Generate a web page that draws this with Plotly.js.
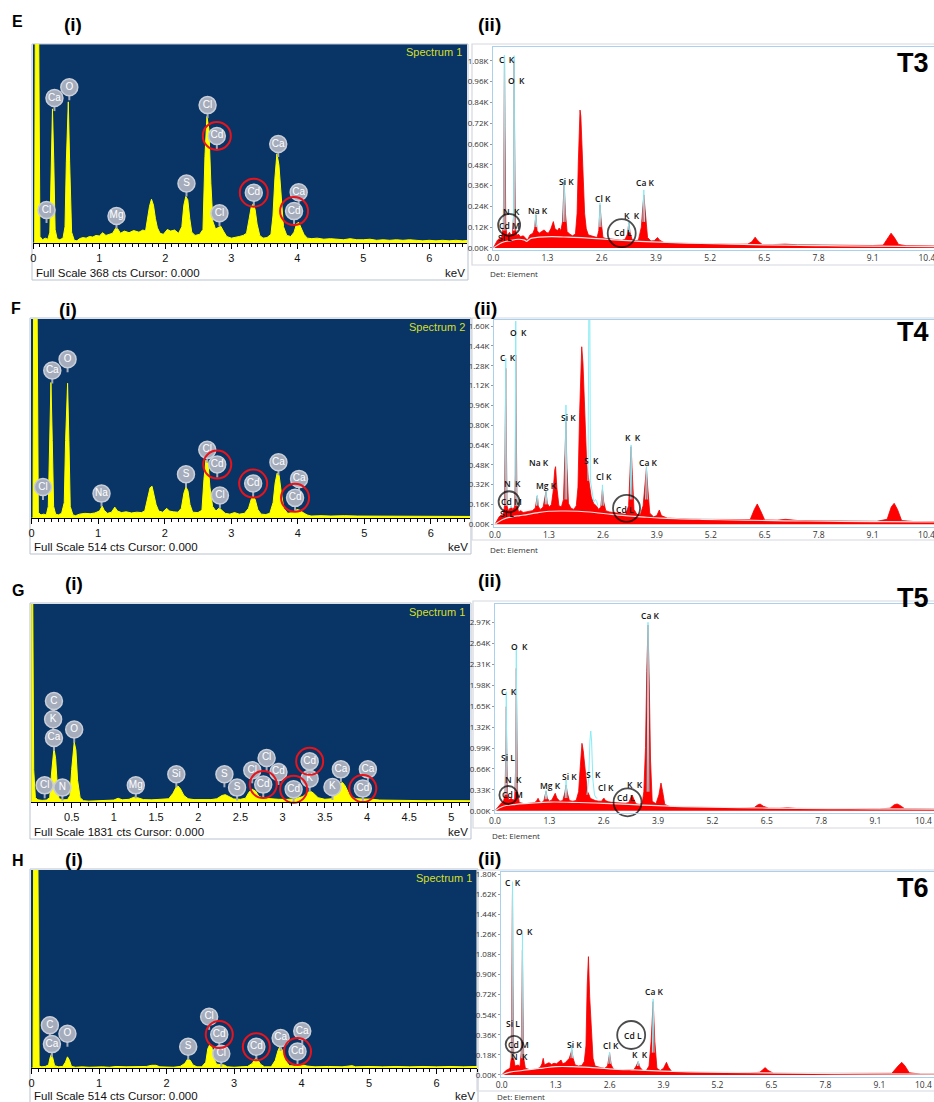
<!DOCTYPE html>
<html><head><meta charset="utf-8">
<script src="https://cdn.plot.ly/plotly-3.0.1.min.js"></script>
<style>html,body{margin:0;padding:0;background:#fff}#chart{width:934px;height:1102px}</style>
</head><body><div id="chart"></div>
<script>
// ---------------- DATA ----------------
// (i) panels: [keV, counts]
const E_i_fullscale = 368, F_i_fullscale = 514, G_i_fullscale = 1831, H_i_fullscale = 514;
const E_i_spec = [[0,0],[0.02,0],[0.03,420],[0.08,420],[0.10,12],[0.14,6],[0.18,9],[0.22,7],[0.25,20],[0.27,130],[0.29,248],[0.31,150],[0.33,25],[0.36,8],[0.40,6],[0.45,9],[0.48,30],[0.50,150],[0.53,261],[0.55,150],[0.58,20],[0.62,5],[0.66,4],[0.70,8],[0.75,10],[0.80,9],[0.85,12],[0.90,11],[0.95,14],[1.00,13],[1.05,19],[1.10,14],[1.15,16],[1.20,18],[1.25,28],[1.28,26],[1.32,18],[1.38,22],[1.45,19],[1.52,23],[1.60,20],[1.66,24],[1.70,22],[1.73,45],[1.76,68],[1.79,81],[1.82,70],[1.85,45],[1.88,28],[1.92,18],[1.97,16],[2.03,25],[2.08,22],[2.14,24],[2.20,18],[2.25,30],[2.28,70],[2.31,86],[2.34,80],[2.37,45],[2.40,20],[2.45,14],[2.52,16],[2.57,25],[2.60,160],[2.63,234],[2.66,210],[2.69,110],[2.72,40],[2.76,26],[2.80,28],[2.84,31],[2.88,22],[2.93,12],[3.00,9],[3.06,10],[3.12,12],[3.18,14],[3.23,18],[3.27,45],[3.30,66],[3.33,72],[3.36,62],[3.39,35],[3.43,14],[3.48,9],[3.54,10],[3.60,16],[3.63,50],[3.66,120],[3.69,165],[3.72,145],[3.75,90],[3.79,30],[3.84,14],[3.90,12],[3.95,20],[3.99,36],[4.02,38],[4.06,28],[4.10,16],[4.15,9],[4.22,8],[4.30,9],[4.40,7],[4.50,8],[4.60,7],[4.70,6],[4.80,8],[4.90,6],[5.00,6],[5.10,7],[5.20,5],[5.30,6],[5.40,5],[5.50,6],[5.60,5],[5.70,6],[5.80,5],[5.90,4],[6.00,5],[6.10,4],[6.20,5],[6.30,4],[6.40,5],[6.50,4],[6.60,5]];
const F_i_spec = [[0,0],[0.02,0],[0.03,600],[0.08,600],[0.10,14],[0.14,8],[0.18,10],[0.22,8],[0.25,30],[0.27,200],[0.29,350],[0.31,200],[0.33,30],[0.36,10],[0.40,8],[0.45,12],[0.49,40],[0.51,200],[0.54,348],[0.56,200],[0.58,30],[0.62,8],[0.66,6],[0.72,10],[0.80,12],[0.88,11],[0.95,13],[1.02,18],[1.06,31],[1.09,20],[1.14,12],[1.20,15],[1.25,28],[1.29,18],[1.35,14],[1.42,16],[1.50,13],[1.58,15],[1.65,14],[1.70,18],[1.74,50],[1.78,78],[1.81,82],[1.84,60],[1.87,35],[1.91,18],[1.97,15],[2.03,25],[2.07,18],[2.13,16],[2.20,15],[2.25,25],[2.29,65],[2.32,80],[2.35,70],[2.38,35],[2.42,15],[2.50,14],[2.56,20],[2.59,100],[2.62,150],[2.65,145],[2.68,80],[2.72,30],[2.77,18],[2.82,26],[2.86,20],[2.91,12],[2.98,10],[3.05,14],[3.12,10],[3.20,12],[3.26,25],[3.30,48],[3.33,56],[3.36,48],[3.40,22],[3.45,10],[3.52,9],[3.58,12],[3.63,40],[3.66,90],[3.69,116],[3.72,110],[3.75,70],[3.79,25],[3.85,12],[3.93,14],[3.99,22],[4.03,20],[4.08,14],[4.14,8],[4.20,5],[4.35,6],[4.50,5],[4.70,6],[4.90,5],[5.10,5],[5.30,4],[5.50,5],[5.70,4],[5.90,5],[6.10,4],[6.30,5],[6.50,4],[6.60,4]];
const G_i_spec = [[0.02,2400],[0.035,2400],[0.05,300],[0.07,40],[0.10,20],[0.15,15],[0.20,18],[0.24,40],[0.26,250],[0.28,450],[0.29,500],[0.31,400],[0.33,150],[0.35,30],[0.40,20],[0.45,22],[0.48,60],[0.50,300],[0.53,555],[0.55,480],[0.57,200],[0.60,40],[0.64,12],[0.70,8],[0.80,10],[0.90,12],[1.00,18],[1.05,35],[1.10,20],[1.18,25],[1.24,45],[1.28,40],[1.35,22],[1.45,20],[1.55,22],[1.65,30],[1.70,80],[1.74,140],[1.76,148],[1.79,120],[1.83,60],[1.88,30],[1.95,22],[2.05,20],[2.15,22],[2.22,30],[2.28,60],[2.32,68],[2.36,50],[2.42,28],[2.50,25],[2.56,35],[2.60,90],[2.64,117],[2.68,100],[2.72,50],[2.78,35],[2.85,30],[2.95,25],[3.05,24],[3.15,30],[3.24,50],[3.30,90],[3.33,99],[3.36,85],[3.42,40],[3.50,25],[3.58,30],[3.63,80],[3.68,170],[3.71,180],[3.74,150],[3.79,70],[3.86,30],[3.95,28],[4.01,32],[4.06,26],[4.15,18],[4.30,15],[4.50,14],[4.70,12],[4.90,13],[5.10,11],[5.22,12]];
const H_i_spec = [[0,0],[0.02,0],[0.03,600],[0.09,600],[0.11,5],[0.15,3],[0.20,4],[0.25,8],[0.27,25],[0.29,35],[0.31,28],[0.34,6],[0.40,3],[0.46,4],[0.50,15],[0.53,29],[0.56,20],[0.59,4],[0.65,2],[0.75,3],[0.85,2],[0.95,3],[1.05,3],[1.15,2],[1.25,4],[1.40,3],[1.55,3],[1.70,4],[1.78,7],[1.84,7],[1.90,3],[2.00,3],[2.10,2],[2.20,4],[2.27,12],[2.31,23],[2.35,20],[2.39,8],[2.45,3],[2.52,3],[2.58,15],[2.61,50],[2.64,61],[2.67,55],[2.70,25],[2.74,10],[2.80,9],[2.85,8],[2.90,3],[3.00,2],[3.10,3],[3.20,4],[3.27,12],[3.31,24],[3.35,22],[3.39,10],[3.45,3],[3.55,3],[3.61,20],[3.65,45],[3.68,56],[3.72,45],[3.76,20],[3.82,6],[3.90,5],[3.97,9],[4.02,8],[4.08,5],[4.20,3],[4.40,4],[4.60,3],[4.75,6],[4.80,3],[5.00,4],[5.20,3],[5.40,4],[5.60,3],[5.80,4],[6.00,3],[6.20,4],[6.40,3],[6.60,4]];

// (i) element labels: [text, keV, counts]
const E_i_labels = [['Cl',0.20,61],['Ca',0.32,268],['O',0.545,288],['Mg',1.26,50],['S',2.32,110],['Cl',2.64,255],['Cd',2.78,198],['Cl',2.82,55],['Cd',3.34,93],['Ca',3.71,183],['Ca',4.02,94],['Cd',3.95,59]];
const F_i_labels = [['Cl',0.17,80],['Ca',0.31,381],['O',0.54,410],['Na',1.05,63],['S',2.32,113],['Cl',2.64,176],['Cd',2.79,138],['Cl',2.83,58],['Cd',3.33,89],['Ca',3.71,144],['Ca',4.02,101],['Cd',3.96,52]];
const G_i_labels = [['C',0.29,934],['K',0.28,765],['Ca',0.29,592],['Cl',0.18,154],['N',0.39,133],['O',0.53,670],['Mg',1.26,154],['Si',1.74,256],['S',2.31,256],['S',2.46,133],['Cl',2.81,407],['Cd',2.95,278],['Cl',2.64,293],['Cd',2.77,161],['Cd',3.13,117],['Cd',3.32,376],['K',3.32,216],['K',3.59,139],['Ca',3.69,302],['Ca',4.01,302],['Cd',3.95,124]];
const H_i_labels = [['C',0.27,111],['Ca',0.30,62],['O',0.53,89],['S',2.32,55],['Cl',2.63,133],['Cd',2.78,87],['Cl',2.81,37],['Cd',3.33,55],['Ca',3.69,78],['Ca',4.01,96],['Cd',3.94,43]];
// (i) highlighted Cd labels: [keV, counts]
const E_i_cd = [[2.78,198],[3.34,93],[3.95,59]];
const F_i_cd = [[2.79,138],[3.33,89],[3.96,52]];
const G_i_cd = [[2.77,161],[3.13,117],[3.32,376],[3.95,124]];
const H_i_cd = [[2.78,87],[3.33,55],[3.94,43]];

// (ii) panels: measured spectrum, fitted peaks (cyan), background
const T3_spec = [[0,0],[0.05,20],[0.10,45],[0.15,55],[0.20,60],[0.24,120],[0.26,700],[0.27,1094],[0.28,700],[0.30,120],[0.33,70],[0.36,80],[0.39,90],[0.42,75],[0.46,80],[0.49,200],[0.50,1082],[0.51,700],[0.53,120],[0.56,70],[0.60,80],[0.65,65],[0.72,70],[0.78,55],[0.82,45],[0.88,75],[0.95,85],[0.99,110],[1.02,190],[1.05,100],[1.10,85],[1.16,95],[1.22,104],[1.27,90],[1.32,85],[1.38,110],[1.44,152],[1.48,110],[1.54,100],[1.58,115],[1.62,100],[1.66,150],[1.70,383],[1.73,200],[1.77,95],[1.83,80],[1.90,70],[1.97,80],[2.01,200],[2.04,500],[2.08,796],[2.10,760],[2.13,604],[2.16,380],[2.19,200],[2.23,110],[2.28,75],[2.35,70],[2.42,65],[2.49,60],[2.53,100],[2.56,248],[2.59,150],[2.63,60],[2.70,55],[2.80,52],[2.90,48],[3.00,45],[3.08,44],[3.16,50],[3.22,80],[3.25,146],[3.28,90],[3.33,48],[3.40,42],[3.48,45],[3.55,120],[3.61,306],[3.65,180],[3.70,60],[3.78,40],[3.86,42],[3.94,60],[3.99,45],[4.10,30],[4.30,28],[4.50,26],[4.70,27],[4.90,24],[5.10,25],[5.30,22],[5.50,23],[5.70,21],[5.90,20],[6.10,22],[6.20,35],[6.28,62],[6.35,40],[6.45,20],[6.70,19],[7.00,22],[7.30,18],[7.60,17],[7.90,18],[8.20,16],[8.50,15],[8.80,15],[9.10,14],[9.35,16],[9.45,50],[9.54,85],[9.62,60],[9.72,20],[9.90,13],[10.20,12],[10.57,11]];
const T3_fit = [[0.25,100],[0.265,1113],[0.28,100],null,[0.485,100],[0.50,1110],[0.515,100],null,[1.00,120],[1.02,195],[1.04,120],null,[1.68,150],[1.70,393],[1.72,150],null,[2.54,120],[2.56,260],[2.58,120],null,[3.23,90],[3.25,150],[3.27,90],null,[3.59,150],[3.61,335],[3.63,150]];
const T3_bkg = [[0,0],[0.2,30],[0.4,42],[0.6,50],[0.75,45],[0.8,38],[0.9,55],[1.1,62],[1.4,65],[1.8,62],[2.2,58],[2.6,52],[3.0,45],[3.5,38],[4.0,33],[5.0,26],[6.0,20],[7.0,16],[8.0,13],[9.0,10],[10.57,8]];
const T4_spec = [[0,0],[0.05,30],[0.10,60],[0.15,75],[0.20,70],[0.23,150],[0.25,800],[0.26,1259],[0.27,800],[0.29,150],[0.32,110],[0.36,130],[0.39,142],[0.43,120],[0.47,140],[0.49,400],[0.50,1366],[0.51,900],[0.53,150],[0.57,100],[0.62,110],[0.68,95],[0.75,100],[0.82,105],[0.90,110],[0.97,130],[1.00,200],[1.02,228],[1.05,140],[1.10,120],[1.16,140],[1.20,200],[1.23,264],[1.26,170],[1.31,140],[1.36,160],[1.40,260],[1.44,440],[1.46,465],[1.49,300],[1.54,150],[1.60,140],[1.65,200],[1.69,600],[1.71,828],[1.73,500],[1.77,170],[1.83,130],[1.90,120],[1.96,150],[2.00,300],[2.04,900],[2.07,1300],[2.09,1433],[2.12,1300],[2.15,1057],[2.18,700],[2.21,492],[2.25,380],[2.28,301],[2.32,220],[2.38,166],[2.44,150],[2.50,120],[2.55,140],[2.59,282],[2.62,180],[2.67,110],[2.75,100],[2.85,95],[2.95,90],[3.05,85],[3.15,80],[3.22,150],[3.26,450],[3.28,626],[3.31,400],[3.35,120],[3.42,80],[3.50,75],[3.57,150],[3.62,380],[3.65,452],[3.68,300],[3.73,90],[3.82,60],[3.90,70],[3.96,115],[4.01,70],[4.15,50],[4.40,45],[4.70,42],[5.00,40],[5.30,38],[5.60,37],[5.90,35],[6.15,38],[6.25,120],[6.32,164],[6.40,110],[6.50,35],[6.80,33],[7.00,40],[7.30,30],[7.60,30],[8.00,28],[8.40,27],[8.80,25],[9.20,24],[9.45,40],[9.55,140],[9.62,169],[9.70,120],[9.80,30],[10.10,22],[10.58,22]];
const T4_fit = [[0.245,150],[0.26,1340],[0.275,150],null,[0.485,150],[0.50,1640],[0.515,150],null,[0.37,130],[0.39,150],[0.41,130],null,[1.00,150],[1.02,235],[1.04,150],null,[1.21,160],[1.23,270],[1.25,160],null,[1.69,200],[1.71,963],[1.73,200],null,[2.24,350],[2.262,1700],[2.285,1700],[2.30,350],[2.38,180],[2.42,200],[2.45,185],[2.48,150],null,[2.57,150],[2.59,318],[2.61,150],null,[3.26,200],[3.28,640],[3.30,200],null,[3.63,200],[3.65,465],[3.67,200]];
const T4_bkg = [[0,0],[0.2,40],[0.4,60],[0.6,70],[0.8,80],[1.0,92],[1.3,105],[1.7,107],[2.0,105],[2.4,95],[2.8,80],[3.2,68],[3.6,58],[4.0,50],[5.0,40],[6.0,33],[7.0,28],[8.0,25],[9.0,22],[10.58,20]];
const T5_spec = [[0,0],[0.05,40],[0.10,80],[0.15,120],[0.20,140],[0.24,250],[0.26,1000],[0.27,1642],[0.28,1000],[0.30,250],[0.33,170],[0.36,180],[0.39,196],[0.43,170],[0.47,180],[0.49,600],[0.51,2248],[0.52,1500],[0.54,300],[0.58,130],[0.63,120],[0.70,110],[0.78,115],[0.86,120],[0.94,125],[0.99,150],[1.03,196],[1.07,140],[1.12,130],[1.17,160],[1.22,306],[1.25,200],[1.30,150],[1.36,170],[1.41,230],[1.44,275],[1.48,200],[1.55,150],[1.62,160],[1.67,280],[1.70,406],[1.73,280],[1.78,160],[1.86,150],[1.94,160],[2.00,300],[2.04,700],[2.08,1064],[2.11,950],[2.15,722],[2.18,450],[2.21,306],[2.25,250],[2.28,196],[2.33,180],[2.40,160],[2.48,150],[2.55,150],[2.59,190],[2.61,196],[2.64,160],[2.72,140],[2.82,130],[2.92,125],[3.02,120],[3.12,118],[3.20,130],[3.25,200],[3.28,248],[3.31,200],[3.37,110],[3.45,100],[3.52,110],[3.56,300],[3.60,1000],[3.63,2200],[3.66,2932],[3.69,2000],[3.72,800],[3.76,150],[3.85,110],[3.92,250],[3.97,437],[4.01,300],[4.06,100],[4.20,60],[4.50,55],[4.80,52],[5.10,50],[5.40,48],[5.70,45],[6.00,43],[6.20,50],[6.28,90],[6.34,106],[6.42,70],[6.55,40],[6.80,38],[7.00,48],[7.20,36],[7.60,34],[8.00,33],[8.40,31],[8.80,30],[9.20,29],[9.45,40],[9.55,95],[9.62,106],[9.70,80],[9.80,30],[10.10,28],[10.50,26]];
const T5_fit = [[0.255,250],[0.27,1879],[0.285,250],null,[0.495,300],[0.51,2564],[0.525,300],null,[1.20,180],[1.22,320],[1.24,180],null,[1.68,200],[1.70,485],[1.72,200],null,[2.20,250],[2.24,500],[2.27,1100],[2.29,1258],[2.31,1100],[2.34,500],[2.38,250],[2.42,200],[2.45,200],null,[3.64,300],[3.66,2975],[3.68,300]];
const T5_bkg = [[0,0],[0.2,70],[0.5,100],[0.8,115],[1.3,137],[2.0,130],[2.6,117],[3.2,100],[3.9,80],[4.5,65],[5.5,52],[6.5,42],[8.0,34],[9.0,30],[10.5,25]];
const T6_spec = [[0,0],[0.05,20],[0.10,40],[0.15,50],[0.20,60],[0.23,150],[0.25,900],[0.26,1672],[0.27,900],[0.29,150],[0.32,80],[0.36,85],[0.40,90],[0.44,75],[0.47,200],[0.49,800],[0.50,1119],[0.51,700],[0.53,150],[0.57,60],[0.63,50],[0.70,45],[0.78,50],[0.86,55],[0.93,70],[0.97,100],[1.00,149],[1.03,90],[1.08,100],[1.14,110],[1.20,95],[1.26,105],[1.32,100],[1.38,115],[1.43,134],[1.47,100],[1.53,110],[1.58,130],[1.63,150],[1.67,200],[1.69,224],[1.72,150],[1.77,90],[1.85,80],[1.93,85],[1.99,120],[2.03,260],[2.06,800],[2.09,1060],[2.12,700],[2.16,350],[2.20,150],[2.25,80],[2.32,70],[2.40,65],[2.48,60],[2.55,80],[2.60,194],[2.64,90],[2.70,50],[2.80,48],[2.90,45],[3.00,42],[3.10,40],[3.18,45],[3.24,80],[3.29,119],[3.33,70],[3.40,40],[3.48,38],[3.55,80],[3.60,300],[3.65,657],[3.69,300],[3.74,60],[3.82,40],[3.90,60],[3.97,113],[4.02,70],[4.10,30],[4.40,25],[4.80,22],[5.20,20],[5.60,18],[6.00,17],[6.22,25],[6.30,55],[6.35,66],[6.42,40],[6.55,16],[7.00,14],[7.50,13],[8.00,12],[8.50,10],[9.00,10],[9.40,15],[9.55,80],[9.64,113],[9.72,80],[9.82,20],[10.10,8],[10.45,8]];
const T6_fit = [[0.245,150],[0.26,1731],[0.275,150],null,[0.485,150],[0.50,1269],[0.515,150],null,[1.67,150],[1.69,269],[1.71,150],null,[2.58,100],[2.60,205],[2.62,100],null,[3.27,80],[3.29,125],[3.31,80],null,[3.63,200],[3.65,681],[3.67,200]];
const T6_bkg = [[0,0],[0.2,25],[0.5,40],[0.8,55],[1.0,62],[1.3,75],[1.7,75],[2.0,70],[2.6,55],[3.2,45],[3.9,35],[5.0,25],[6.0,20],[7.5,14],[9.0,10],[10.45,8]];

// (ii) peak labels: [text, keV, counts]
const NB = '\u00a0\u00a0';
const T3_labels = [['C'+NB+'K',0.32,1085],['O'+NB+'K',0.56,969],['N'+NB+'K',0.44,213],['Cd M',0.38,129],['Si L',0.28,59],['Na K',1.08,215],['Si K',1.76,383],['Cl K',2.62,287],['K'+NB+'K',3.32,190],['Cd L',3.12,88],['Ca K',3.66,377]];
const T4_labels = [['O'+NB+'K',0.56,1546],['C'+NB+'K',0.31,1348],['Si K',1.77,860],['K'+NB+'K',3.33,702],['Na K',1.07,500],['S'+NB+'K',2.33,511],['Ca K',3.71,500],['Cl K',2.63,384],['Mg K',1.25,309],['N'+NB+'K',0.43,331],['Cd M',0.40,182],['Si L',0.28,83],['Cd L',3.13,123]];
const T5_labels = [['Ca K',3.72,3090],['O'+NB+'K',0.58,2590],['C'+NB+'K',0.34,1879],['Si L',0.30,837],['N'+NB+'K',0.44,500],['Cd M',0.42,259],['Mg K',1.32,406],['Si K',1.79,537],['S'+NB+'K',2.35,575],['Cl K',2.66,363],['K'+NB+'K',3.35,421],['Cd L',3.13,212]];
const T6_labels = [['C'+NB+'K',0.28,1722],['O'+NB+'K',0.54,1283],['Si L',0.27,463],['Cd M',0.40,269],['N'+NB+'K',0.42,170],['Si K',1.75,275],['Cl K',2.63,260],['Cd L',3.16,358],['K'+NB+'K',3.33,185],['Ca K',3.69,752]];
// (ii) circled Cd lines: [keV, counts]
const T3_cd = [[0.38,133],[3.08,85]];
const T4_cd = [[0.34,182],[3.17,129]];
const T5_cd = [[0.32,248],[3.17,133]];
const T6_cd = [[0.30,275],[3.12,358]];

// tick labels
const keV_ticks = [0,1.3,2.6,3.9,5.2,6.5,7.8,9.1,10.4];
const keV_ticktext = ['0.0','1.3','2.6','3.9','5.2','6.5','7.8','9.1','10.4'];
const T3_yticks = [0,120,240,360,480,600,720,840,960,1080];
const T4_yticks = [0,160,320,480,640,800,960,1120,1280,1440,1600];
const T5_yticks = [0,330,660,990,1320,1650,1980,2310,2640,2970];
const T6_yticks = [0,180,360,540,720,900,1080,1260,1440,1620,1800];

// ---------------- LAYOUT ----------------
const W = 934, H = 1102;
const fx = v => v / W, fy = v => 1 - v / H;
const sfx = n => n === 1 ? '' : String(n);
const X = p => p ? p[0] : null, Y = p => p ? p[1] : null;

const leftPanels = [
  {n:1, spec:E_i_spec, lab:E_i_labels, cd:E_i_cd, box:[33,467,44,243], xr:[-0.005,6.57], full:E_i_fullscale, dtick:1, name:'Spectrum 1', frame:[32,468,44,280], footY:273, cdSize:28},
  {n:3, spec:F_i_spec, lab:F_i_labels, cd:F_i_cd, box:[31,470,319,518], xr:[-0.01,6.59], full:F_i_fullscale, dtick:1, name:'Spectrum 2', frame:[30,471,318,554], footY:547, cdSize:28},
  {n:5, spec:G_i_spec, lab:G_i_labels, cd:G_i_cd, box:[31,470,604,802], xr:[0.018,5.22], full:G_i_fullscale, dtick:0.5, name:'Spectrum 1', frame:[30,471,603,839], footY:832, cdSize:27},
  {n:7, spec:H_i_spec, lab:H_i_labels, cd:H_i_cd, box:[31,477,870,1068], xr:[-0.01,6.6], full:H_i_fullscale, dtick:1, name:'Spectrum 1', frame:[30,478,869,1103], footY:1096, cdSize:27}
];
const rightPanels = [
  {n:2, spec:T3_spec, fit:T3_fit, bkg:T3_bkg, lab:T3_labels, cd:T3_cd, cdSize:[22,28], box:[493,934,47,250], xr:[-0.007,10.57], yr:[-12,1160], yt:T3_yticks, tag:'T3', tagY:63, frame:[472,936,44,265], detY:274, detX:488, edgeTick:false},
  {n:4, spec:T4_spec, fit:T4_fit, bkg:T4_bkg, lab:T4_labels, cd:T4_cd, cdSize:[21,27], box:[494,934,320,527], xr:[-0.024,10.58], yr:[-22,1649], yt:T4_yticks, tag:'T4', tagY:332, frame:[472,936,318,540], detY:549, detX:488, edgeTick:false},
  {n:6, spec:T5_spec, fit:T5_fit, bkg:T5_bkg, lab:T5_labels, cd:T5_cd, cdSize:[18,28], box:[495,934,604,813], xr:[0,10.5], yr:[-36,3264], yt:T5_yticks, tag:'T5', tagY:598, frame:[473,936,601,828], detY:835, detX:490, edgeTick:true},
  {n:8, spec:T6_spec, fit:T6_fit, bkg:T6_bkg, lab:T6_labels, cd:T6_cd, cdSize:[17,28], box:[501,934,872,1077], xr:[-0.017,10.417], yr:[-18,1818], yt:T6_yticks, tag:'T6', tagY:888, frame:[477,936,870,1091], detY:1096, detX:495, edgeTick:true}
];

const data = [], shapes = [], annotations = [];
const layout = {
  width: W, height: H, margin: {l:0, r:0, t:0, b:0},
  paper_bgcolor: '#ffffff', plot_bgcolor: 'rgba(0,0,0,0)',
  showlegend: false, hovermode: false,
  font: {family: 'Liberation Sans, Arial, sans-serif', color: '#000'}
};

leftPanels.forEach(p => {
  const s = sfx(p.n), xa = 'x' + s, ya = 'y' + s;
  const [x0, x1, y0, y1] = p.box;
  layout['xaxis' + s] = {
    domain: [fx(x0), fx(x1)], range: p.xr, anchor: ya, showgrid: false, zeroline: false,
    showline: true, linecolor: '#000', linewidth: 1, ticks: 'outside', ticklen: 5, tickcolor: '#000',
    tick0: 0, dtick: p.dtick, ticklabeloverflow: 'allow',
    tickfont: {family: 'Liberation Sans, Arial', size: 11, color: '#111'},
    minor: {ticks: 'outside', ticklen: 3, tickcolor: '#000', dtick: 0.1, tick0: 0, showgrid: false}
  };
  layout['yaxis' + s] = {domain: [fy(y1), fy(y0)], range: [0, p.full], anchor: xa, visible: false, fixedrange: true};
  shapes.push({type:'rect', xref: xa + ' domain', yref: ya + ' domain', x0:0, x1:1, y0:0, y1:1, fillcolor:'#083566', line:{width:0}, layer:'below'});
  shapes.push({type:'rect', xref:'paper', yref:'paper', x0:fx(p.frame[0]), x1:fx(p.frame[1]), y0:fy(p.frame[3]), y1:fy(p.frame[2]), line:{color:'#b9c3d2', width:1}, fillcolor:'rgba(0,0,0,0)', layer:'below'});
  data.push({type:'scatter', mode:'lines', x:p.spec.map(X), y:p.spec.map(Y), xaxis:xa, yaxis:ya,
    fill:'tozeroy', fillcolor:'#ffff00', line:{color:'#ffff00', width:1}, hoverinfo:'skip'});
  const cpp = p.full / (y1 - y0);
  const sx = [], sy = [];
  p.lab.forEach(l => { sx.push(l[1], l[1], null); sy.push(l[2], l[2] - 13 * cpp, null); });
  data.push({type:'scatter', mode:'lines', x:sx, y:sy, xaxis:xa, yaxis:ya, line:{color:'#a5adbd', width:2}, hoverinfo:'skip', cliponaxis:false});
  data.push({type:'scatter', mode:'markers+text', x:p.lab.map(l=>l[1]), y:p.lab.map(l=>l[2]), text:p.lab.map(l=>l[0]),
    xaxis:xa, yaxis:ya, cliponaxis:false, textposition:'middle center',
    textfont:{family:'Liberation Sans, Arial', size:10, color:'#ffffff'},
    marker:{symbol:'circle', size:17, color:'#a5adbd', line:{color:'#c9ced8', width:1.5}}, hoverinfo:'skip'});
  data.push({type:'scatter', mode:'markers', x:p.cd.map(X), y:p.cd.map(Y), xaxis:xa, yaxis:ya, cliponaxis:false,
    marker:{symbol:'circle-open', size:p.cdSize, color:'#e8131b', line:{color:'#e8131b', width:2}}, hoverinfo:'skip'});
  annotations.push({xref:'paper', yref:'paper', x:fx(x1 - 3), y:fy(y0 + 8), xanchor:'right', yanchor:'middle', showarrow:false,
    text:p.name, font:{family:'Liberation Sans, Arial', size:11, color:'#d7de2a'}});
  annotations.push({xref:'paper', yref:'paper', x:fx(x0 + 1), y:fy(p.footY), xanchor:'left', yanchor:'middle', showarrow:false,
    text:'Full Scale ' + p.full + ' cts Cursor: 0.000', font:{family:'Liberation Sans, Arial', size:11.5, color:'#111'}});
  annotations.push({xref:'paper', yref:'paper', x:fx(x1), y:fy(p.footY), xanchor:'right', yanchor:'middle', showarrow:false,
    text:'keV', font:{family:'Liberation Sans, Arial', size:11.5, color:'#111'}});
});

rightPanels.forEach(p => {
  const s = sfx(p.n), xa = 'x' + s, ya = 'y' + s;
  const [x0, x1, y0, y1] = p.box;
  const nT = p.edgeTick ? keV_ticks.length - 1 : keV_ticks.length;
  layout['xaxis' + s] = {
    domain: [fx(x0), fx(x1)], range: p.xr, anchor: ya, showgrid: false, zeroline: false,
    showline: true, mirror: true, linecolor: '#a9d0ec', linewidth: 1, ticks: '',
    tickvals: keV_ticks.slice(0, nT), ticktext: keV_ticktext.slice(0, nT), ticklabeloverflow: 'allow',
    tickfont: {family: 'Open Sans, Noto Sans, sans-serif', size: 8.5, color: '#333'}
  };
  if (p.edgeTick) {
    annotations.push({xref:'paper', yref:'paper', x:1, y:fy(y1 + 7), xanchor:'right', yanchor:'middle', showarrow:false,
      text:keV_ticktext[keV_ticktext.length - 1], font:{family:'Open Sans, Noto Sans, sans-serif', size:8.5, color:'#333'}});
  }
  layout['yaxis' + s] = {
    domain: [fy(y1), fy(y0)], range: p.yr, anchor: xa, showgrid: false, zeroline: false,
    showline: true, mirror: true, linecolor: '#a9d0ec', linewidth: 1, ticks: 'outside', ticklen: 2, tickcolor: '#999',
    tickvals: p.yt, ticktext: p.yt.map(v => (v / 1000).toFixed(2) + 'K'), ticklabeloverflow: 'allow',
    tickfont: {family: 'Open Sans, Noto Sans, sans-serif', size: 8, color: '#333'}
  };
  shapes.push({type:'rect', xref:'paper', yref:'paper', x0:fx(p.frame[0]), x1:fx(p.frame[1]), y0:fy(p.frame[3]), y1:fy(p.frame[2]), line:{color:'#d4d8de', width:1.2}, fillcolor:'rgba(0,0,0,0)', layer:'below'});
  data.push({type:'scatter', mode:'lines', x:p.spec.map(X), y:p.spec.map(Y), xaxis:xa, yaxis:ya,
    fill:'tozeroy', fillcolor:'#ff0000', line:{color:'#f00000', width:0.8}, hoverinfo:'skip'});
  data.push({type:'scatter', mode:'lines', x:p.bkg.map(X), y:p.bkg.map(Y), xaxis:xa, yaxis:ya,
    line:{color:'#e6e6e6', width:1.2, shape:'spline'}, hoverinfo:'skip'});
  data.push({type:'scatter', mode:'lines', x:p.fit.map(X), y:p.fit.map(Y), xaxis:xa, yaxis:ya, connectgaps:false,
    line:{color:'#86ecf6', width:1}, hoverinfo:'skip'});
  data.push({type:'scatter', mode:'markers', x:p.cd.map(X), y:p.cd.map(Y), xaxis:xa, yaxis:ya, cliponaxis:false,
    marker:{symbol:'circle-open', size:p.cdSize, color:'#000', line:{color:'#000', width:1.8}}, hoverinfo:'skip'});
  p.lab.forEach(l => annotations.push({xref:xa, yref:ya, x:l[1], y:l[2], xanchor:'center', yanchor:'middle', showarrow:false,
    text:l[0], font:{family:'Open Sans, Noto Sans, sans-serif', size:8.5, color:'#111', weight:600}}));
  annotations.push({xref:'paper', yref:'paper', x:fx(931), y:fy(p.tagY), xanchor:'right', yanchor:'middle', showarrow:false,
    text:'<b>' + p.tag + '</b>', font:{family:'Liberation Sans, Arial', size:27, color:'#000'}});
  annotations.push({xref:'paper', yref:'paper', x:fx(p.detX), y:fy(p.detY), xanchor:'left', yanchor:'middle', showarrow:false,
    text:'Det: Element', font:{family:'Open Sans, Noto Sans, sans-serif', size:8, color:'#333'}});
});

const panelTags = [['E',17,22,'(i)',73,25,'(ii)',490,25],['F',16,308,'(i)',68,309,'(ii)',485,308],['G',18,590,'(i)',74,583,'(ii)',490,580],['H',18,860,'(i)',74,859,'(ii)',490,858]];
panelTags.forEach(t => {
  annotations.push({xref:'paper', yref:'paper', x:fx(t[1]), y:fy(t[2]), xanchor:'center', yanchor:'middle', showarrow:false, text:'<b>'+t[0]+'</b>', font:{family:'Liberation Sans, Arial', size:16, color:'#000'}});
  annotations.push({xref:'paper', yref:'paper', x:fx(t[4]), y:fy(t[5]), xanchor:'center', yanchor:'middle', showarrow:false, text:'<b>'+t[3]+'</b>', font:{family:'Liberation Sans, Arial', size:19, color:'#000'}});
  annotations.push({xref:'paper', yref:'paper', x:fx(t[7]), y:fy(t[8]), xanchor:'center', yanchor:'middle', showarrow:false, text:'<b>'+t[6]+'</b>', font:{family:'Liberation Sans, Arial', size:19, color:'#000'}});
});

layout.shapes = shapes;
layout.annotations = annotations;
Plotly.newPlot('chart', data, layout, {staticPlot: true, displayModeBar: false});
</script></body></html>
